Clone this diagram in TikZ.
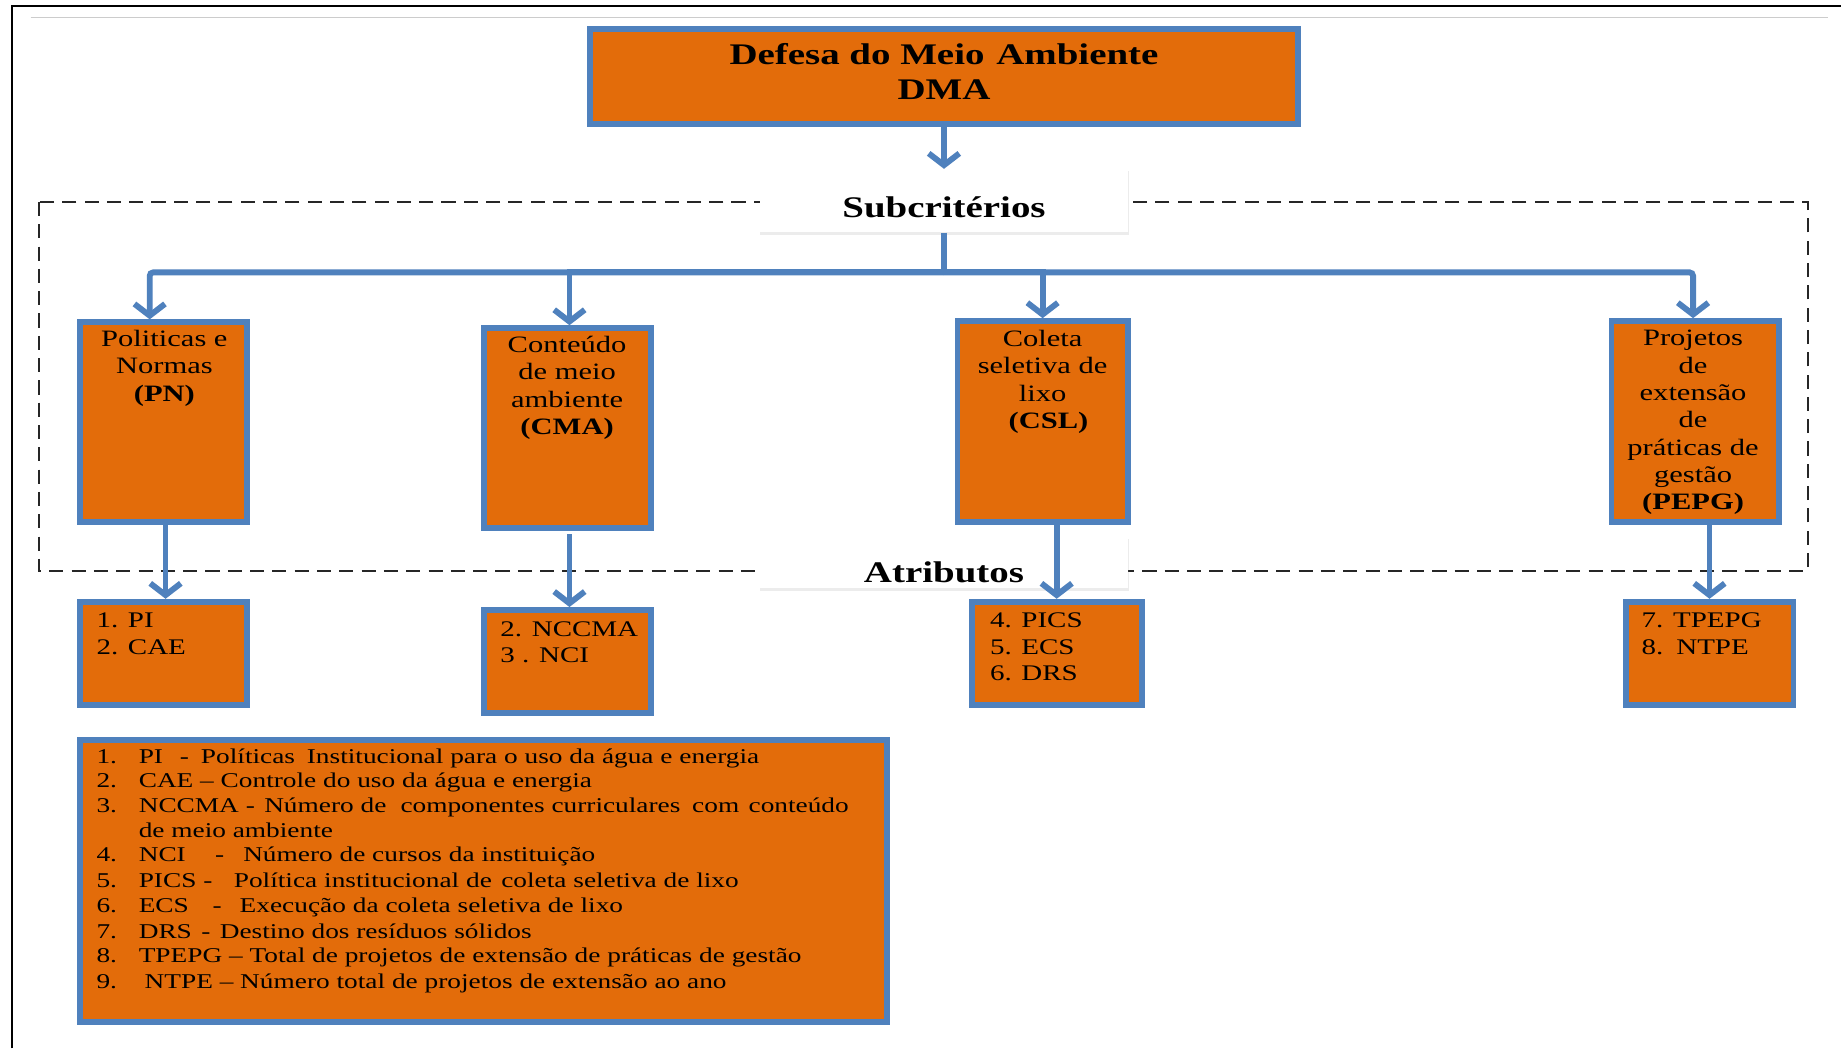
\documentclass[tikz,border=0pt]{standalone}
\usepackage{fontspec}
\setmainfont{Liberation Serif}[FakeStretch=1.3]
\usetikzlibrary{arrows.meta,shadows,calc}
\definecolor{boxorange}{RGB}{227,108,10}
\definecolor{boxblue}{RGB}{79,129,189}
\tikzset{
  obox/.style={draw=boxblue, line width=5pt, fill=boxorange, inner sep=0pt,
    drop shadow={shadow xshift=1.5pt, shadow yshift=-2pt, opacity=.3}},
  wbox/.style={fill=white, inner sep=0pt,
    drop shadow={shadow xshift=0.5pt, shadow yshift=-2pt, opacity=.15}},
  flow/.style={draw=boxblue, line width=5pt, -{Straight Barb[length=10pt,width=26pt]}},
  busline/.style={draw=boxblue, line width=5pt},
  lbl/.style={inner sep=0pt, align=center, anchor=north, font=\fontsize{20}{23.3}\selectfont},
  attr/.style={inner sep=0pt, align=left, anchor=north west, font=\fontsize{19}{22.5}\selectfont},
  leg/.style={inner sep=0pt, anchor=base west, font=\fontsize{17.9}{21}\selectfont},
  headtxt/.style={inner sep=0pt, font=\bfseries\fontsize{25.5}{30}\selectfont},
  frame group/.style={draw=black!85, line width=1.5pt, dash pattern=on 12pt off 7pt},
}
\begin{document}
\begin{tikzpicture}[x=1pt,y=-1pt]
\useasboundingbox (0,0) rectangle (1568,893);
\fill[white] (0,0) rectangle (1568,893);

% page frame and rule
\draw[line width=2pt] (10,893) -- (10,5) -- (1568,5);
\draw[black!20, line width=1.5pt] (26,15) -- (1557,15);

% dashed group around the sub-criteria
\draw[frame group] (33,172) rectangle (1540,486);

% main criterion
\node[obox, minimum width=603pt, minimum height=81pt] (dma) at (804,65) {};
\node[headtxt, align=center] (dmatxt) at (804,61) {Defesa do Meio\hspace{10pt}Ambiente\\DMA};

% section headers
\node[wbox, minimum width=314pt, minimum height=54pt] (sub) at (804,171) {};
\node[headtxt, anchor=base] (subtxt) at (804,185) {Subcritérios};
\node[wbox, minimum width=314pt, minimum height=44pt] (atr) at (804,479) {};
\node[headtxt, anchor=base] (atrtxt) at (804,496) {Atributos};

% sub-criteria
\node[obox, minimum width=142pt, minimum height=170pt] (pn) at (139.5,359.5) {};
\node[lbl] (pntxt) at (140,281) {Politicas e\\Normas\\\textbf{(PN)}};
\node[obox, minimum width=142pt, minimum height=170pt] (cma) at (483.5,364.5) {};
\node[lbl] (cmatxt) at (483,286) {Conteúdo\\de meio\\ambiente\\\textbf{(CMA)}};
\node[obox, minimum width=145pt, minimum height=171pt] (csl) at (888,359) {};
\node[lbl] (csltxt) at (888,281) {Coleta\\seletiva de\\lixo\\\hspace*{10pt}\textbf{(CSL)}};
\node[obox, minimum width=143pt, minimum height=171pt] (pepg) at (1444,359) {};
\node[lbl] (pepgtxt) at (1442,281) {Projetos\\de\\extensão\\de\\práticas de\\gestão\\\textbf{(PEPG)}};

% attributes
\node[obox, minimum width=142pt, minimum height=88pt] (pna) at (139.5,556.5) {};
\node[attr] (pnatxt) at (82,522) {1. PI\\2. CAE};
\node[obox, minimum width=142pt, minimum height=88pt] (cmaa) at (483.5,563.5) {};
\node[attr] (cmaatxt) at (426,529) {2. NCCMA\\3 . NCI};
\node[obox, minimum width=145pt, minimum height=88pt] (csla) at (900,556.5) {};
\node[attr] (cslatxt) at (843,522) {4. PICS\\5. ECS\\6. DRS};
\node[obox, minimum width=143pt, minimum height=88pt] (pepga) at (1456,556.5) {};
\node[attr] (pepgatxt) at (1398,522) {7. TPEPG\\8.\hspace{11pt}NTPE};

% legend
\node[obox, minimum width=687pt, minimum height=240pt] (legend) at (412,750.5) {};
\foreach \n/\y in {1/650,2/671,3/692,4/734,5/756,6/777,7/799,8/820,9/842}
  \node[leg] (num\n) at (82,\y) {\n.};
\node[leg] (t1) at (118,650) {\makebox[35pt][l]{PI}\makebox[18pt][l]{-}Políticas\hspace{10pt}Institucional para o uso da água e energia};
\node[leg] (t2) at (118,671) {CAE – Controle do uso da água e energia};
\node[leg] (t3) at (118,692) {NCCMA -\hspace{8pt}Número de\hspace{12pt}componentes curriculares\hspace{10pt}com\hspace{8pt}conteúdo};
\node[leg] (t3b) at (118,713) {de meio ambiente};
\node[leg] (t4) at (118,734) {\makebox[65pt][l]{NCI}\makebox[24pt][l]{-}Número de cursos da instituição};
\node[leg] (t5) at (118,756) {\makebox[81pt][l]{PICS -}Política institucional de\hspace{8pt}coleta seletiva de lixo};
\node[leg] (t6) at (118,777) {\makebox[63pt][l]{ECS}\makebox[23pt][l]{-}Execução\hspace{6pt}da coleta seletiva de lixo};
\node[leg] (t7) at (118,799) {DRS\hspace{8pt}-\hspace{8pt}Destino dos resíduos sólidos};
\node[leg] (t8) at (118,820) {TPEPG – Total de projetos de extensão de práticas de gestão};
\node[leg] (t9) at (123,842) {NTPE – Número total de projetos de extensão ao ano};

% connectors
\coordinate (bus) at (804,232);
\draw[flow] (dma.south) -- (sub.north);
\draw[busline] (sub.south) -- (bus);
\draw[flow, rounded corners=3pt] (bus) -| ([xshift=-12pt]pn.north);
\draw[flow] (bus) -| ([xshift=1.5pt]cma.north);
\draw[flow] (bus) -| (csl.north);
\draw[flow, rounded corners=3pt] (bus) -| ([xshift=-2pt]pepg.north);

\draw[flow] ([xshift=1.5pt]pn.south) -- ([xshift=1.5pt]pna.north);
\draw[flow] ([xshift=1.5pt, yshift=-3pt]cma.south) -- ([xshift=1.5pt]cmaa.north);
\draw[flow] (csl.south -| csla.north) -- (csla.north);
\draw[flow] (pepg.south -| pepga.north) -- (pepga.north);
\end{tikzpicture}
\end{document}
